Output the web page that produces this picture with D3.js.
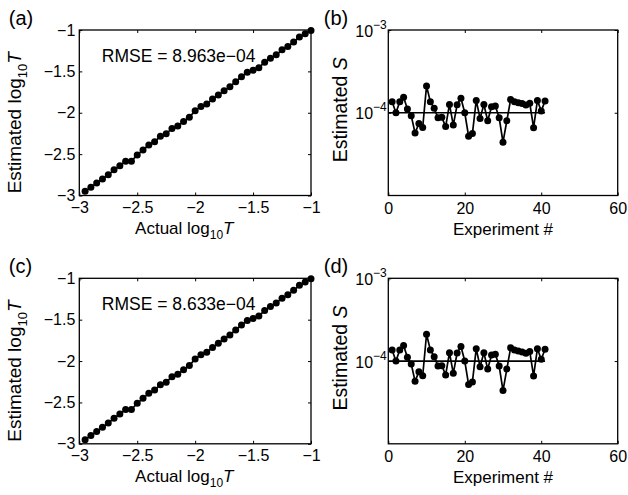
<!DOCTYPE html>
<html>
<head>
<meta charset="utf-8">
<script src="https://cdn.jsdelivr.net/npm/d3@7"></script>
<style>
  body { margin: 0; background: #fff; }
  text { font-family: "Liberation Sans", Arial, Helvetica, sans-serif; fill: #000; }
</style>
</head>
<body>
<div id="chart"></div>
<script>
// ============================
// Data
// ============================
const actualLogT = [-2.95, -2.90, -2.85, -2.80, -2.75, -2.70, -2.65, -2.60, -2.55, -2.50,
                    -2.45, -2.40, -2.35, -2.30, -2.25, -2.20, -2.15, -2.10, -2.05, -2.00,
                    -1.95, -1.90, -1.85, -1.80, -1.75, -1.70, -1.65, -1.60, -1.55, -1.50,
                    -1.45, -1.40, -1.35, -1.30, -1.25, -1.20, -1.15, -1.10, -1.05, -1.00]
const estLogT = [-2.950, -2.900, -2.850, -2.800, -2.750, -2.690, -2.640, -2.585, -2.585, -2.510,
                 -2.450, -2.390, -2.350, -2.285, -2.255, -2.190, -2.160, -2.105, -2.055, -1.975,
                 -1.925, -1.895, -1.835, -1.785, -1.735, -1.685, -1.625, -1.565, -1.510, -1.485,
                 -1.455, -1.390, -1.340, -1.300, -1.240, -1.200, -1.145, -1.085, -1.045, -1.005]

const experiment = [1, 2, 3, 4, 5, 6, 7, 8, 9, 10, 11, 12, 13, 14, 15, 16, 17, 18, 19, 20,
                    21, 22, 23, 24, 25, 26, 27, 28, 29, 30, 31, 32, 33, 34, 35, 36, 37, 38, 39, 40, 41]
const estS = [1.36e-4, 1.00e-4, 1.36e-4, 1.54e-4, 1.11e-4, 0.92e-4, 0.57e-4, 0.74e-4, 0.665e-4, 2.11e-4,
              1.36e-4, 1.13e-4, 0.87e-4, 0.88e-4, 0.68e-4, 1.26e-4, 0.71e-4, 1.25e-4, 1.50e-4, 1.00e-4,
              0.52e-4, 0.56e-4, 1.41e-4, 0.855e-4, 1.26e-4, 0.80e-4, 1.18e-4, 1.21e-4, 0.87e-4, 0.44e-4,
              0.80e-4, 1.45e-4, 1.36e-4, 1.32e-4, 1.29e-4, 1.24e-4, 1.30e-4, 0.66e-4, 1.41e-4, 1.05e-4, 1.39e-4]
const trueS = 1e-4
const trueLine = [0, 41]

const logTicks = [-3, -2.5, -2, -1.5, -1]
const expTicks = [0, 20, 40, 60]
const sTicks = [1e-3, 1e-4]

const panels = [
  {label: "(a)", kind: "T", rmse: "RMSE = 8.963e\u221204", left: 79.3, top: 30},
  {label: "(b)", kind: "S", left: 388.3, top: 30},
  {label: "(c)", kind: "T", rmse: "RMSE = 8.633e\u221204", left: 79.3, top: 278.3},
  {label: "(d)", kind: "S", left: 388.3, top: 278.3}
]

const width = 628
const height = 495
const plotW = 231.7
const plotS = 229.4
const plotH = 165.5
const tickLen = 3

const svg = d3.select("#chart").append("svg").attr("width", width).attr("height", height);

const fmt = d => String(d).replace("-", "\u2212")

// style axis text after d3 has drawn it
const styleAxis = g => {
  g.attr("font-family", null).attr("font-size", null);
  g.select(".domain").remove();
  g.selectAll(".tick line").attr("stroke", "#000").attr("stroke-width", 1);
  g.selectAll(".tick text").attr("font-size", 16).attr("fill", "#000");
}

const drawT = (g, p) => {
  const x = d3.scaleLinear().domain([-3, -1]).range([0, plotW])
  const y = d3.scaleLinear().domain([-3, -1]).range([plotH, 0])

  g.append("g").attr("transform", `translate(0,${plotH})`)
    .call(d3.axisBottom(x).tickValues(logTicks).tickFormat(fmt).tickSizeInner(-tickLen).tickSizeOuter(0).tickPadding(6))
    .call(styleAxis);
  g.append("g")
    .call(d3.axisTop(x).tickValues(logTicks).tickFormat("").tickSizeInner(-tickLen).tickSizeOuter(0))
    .call(styleAxis);
  g.append("g")
    .call(d3.axisLeft(y).tickValues(logTicks).tickFormat(fmt).tickSizeInner(-tickLen).tickSizeOuter(0).tickPadding(4))
    .call(styleAxis);
  g.append("g").attr("transform", `translate(${plotW},0)`)
    .call(d3.axisRight(y).tickValues(logTicks).tickFormat("").tickSizeInner(-tickLen).tickSizeOuter(0))
    .call(styleAxis);

  const pts = actualLogT.map((d, i) => ({x: d, y: estLogT[i]}))
  const line = d3.line().x(d => x(d.x)).y(d => y(d.y))

  g.append("path").datum(pts)
    .attr("d", line).attr("fill", "none").attr("stroke", "#000").attr("stroke-width", 1.7);
  g.append("g").selectAll("circle").data(pts).join("circle")
    .attr("cx", d => x(d.x)).attr("cy", d => y(d.y)).attr("r", 3.5).attr("fill", "#000");

  g.append("text").attr("x", 22.5).attr("y", 31.5).attr("font-size", 17.5).text(p.rmse);

  // axis labels with subscript
  const xl = g.append("text").attr("x", 105).attr("y", 204).attr("text-anchor", "middle").attr("font-size", 17);
  xl.append("tspan").text("Actual log");
  xl.append("tspan").attr("font-size", 12).attr("dy", 5).text("10");
  xl.append("tspan").attr("font-style", "italic").attr("dy", -5).text("T");

  const yl = g.append("text").attr("transform", `translate(-58,${plotH / 2 + 10}) rotate(-90)`)
    .attr("text-anchor", "middle").attr("font-size", 19);
  yl.append("tspan").text("Estimated log");
  yl.append("tspan").attr("font-size", 13).attr("dy", 6).text("10");
  yl.append("tspan").attr("font-style", "italic").attr("dy", -6).text("T");
}

const drawS = (g, p) => {
  const x = d3.scaleLinear().domain([0, 60]).range([0, plotS])
  const y = d3.scaleLog().domain([1e-5, 1e-3]).range([plotH, 0])

  g.append("g").attr("transform", `translate(0,${plotH})`)
    .call(d3.axisBottom(x).tickValues(expTicks).tickFormat(d3.format("d")).tickSizeInner(-tickLen).tickSizeOuter(0).tickPadding(7))
    .call(styleAxis);
  g.append("g")
    .call(d3.axisTop(x).tickValues(expTicks).tickFormat("").tickSizeInner(-tickLen).tickSizeOuter(0))
    .call(styleAxis);
  const ya = g.append("g")
    .call(d3.axisLeft(y).tickValues(sTicks).tickFormat("").tickSizeInner(-tickLen).tickSizeOuter(0))
    .call(styleAxis);
  g.append("g").attr("transform", `translate(${plotS},0)`)
    .call(d3.axisRight(y).tickValues(sTicks).tickFormat("").tickSizeInner(-tickLen).tickSizeOuter(0))
    .call(styleAxis);

  // power-of-ten labels
  ya.selectAll(".tick text").each(function(d) {
    const t = d3.select(this).attr("dy", null).attr("y", 6).attr("x", -1.5);
    t.append("tspan").text("10");
    t.append("tspan").attr("font-size", 12).attr("dy", -8).text(fmt(Math.round(Math.log10(d))));
  });

  g.append("line")
    .attr("x1", x(trueLine[0])).attr("x2", x(trueLine[1]))
    .attr("y1", y(trueS)).attr("y2", y(trueS))
    .attr("stroke", "#000").attr("stroke-width", 1.7);

  const pts = experiment.map((d, i) => ({x: d, y: estS[i]}))
  const line = d3.line().x(d => x(d.x)).y(d => y(d.y))

  g.append("path").datum(pts)
    .attr("d", line).attr("fill", "none").attr("stroke", "#000").attr("stroke-width", 1.7);
  g.append("g").selectAll("circle").data(pts).join("circle")
    .attr("cx", d => x(d.x)).attr("cy", d => y(d.y)).attr("r", 3.5).attr("fill", "#000");

  g.append("text").attr("x", plotS / 2).attr("y", 205).attr("text-anchor", "middle")
    .attr("font-size", 17).text("Experiment #");

  const yl = g.append("text").attr("transform", `translate(-41,${plotH / 2 - 3}) rotate(-90)`)
    .attr("text-anchor", "middle").attr("font-size", 19.5);
  yl.append("tspan").text("Estimated ");
  yl.append("tspan").attr("font-style", "italic").text("S");
}

// ============================
// Draw the four panels
// ============================
panels.forEach(p => {
  const g = svg.append("g").attr("transform", `translate(${p.left},${p.top})`);
  if (p.kind === "T") drawT(g, p); else drawS(g, p);

  const w = p.kind === "T" ? plotW : plotS
  g.append("rect").attr("width", w).attr("height", plotH)
    .attr("fill", "none").attr("stroke", "#000").attr("stroke-width", 1.3);

  svg.append("text").attr("x", p.left - (p.kind === "T" ? 70.5 : 64.5)).attr("y", p.top - 5)
    .attr("font-size", 20).text(p.label);
});
</script>
</body>
</html>
